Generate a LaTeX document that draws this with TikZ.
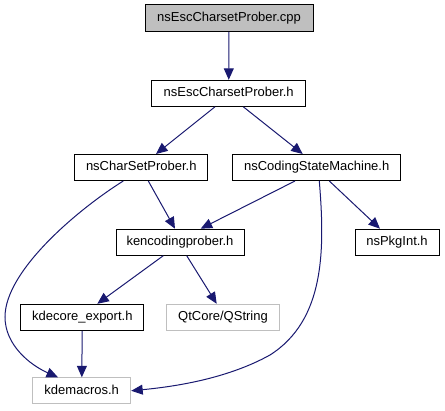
\documentclass[tikz,border=0pt]{standalone}
\usepackage{fontspec}
\setmainfont{Liberation Sans}
\usepackage{tikz}
\usetikzlibrary{calc,arrows.meta}
\definecolor{ig-edge}{HTML}{191970}
\definecolor{ig-gray}{HTML}{BFBFBF}

\begin{document}
\begin{tikzpicture}[x=1pt, y=-1pt,
    file/.style={draw=black, line width=1pt, minimum height=26pt, inner sep=0pt,
                 font=\fontsize{13}{15}\selectfont, text height=9.5pt, text depth=2.5pt},
    extfile/.style={file, draw=ig-gray},
    dep/.style={ig-edge, line width=1pt, -{Triangle[length=11.5pt, width=10pt]}}]
    \useasboundingbox (0,0) rectangle (445,411);
    \node[file, fill=ig-gray, minimum width=168pt, minimum height=27pt] (cpp) at (229,18) {nsEscCharsetProber.cpp};
    \node[file, minimum width=154pt] (esch) at (228.7,93.3) {nsEscCharsetProber.h};
    \node[file, minimum width=133pt] (csp) at (141.3,167.5) {nsCharSetProber.h};
    \node[file, minimum width=168pt] (csm) at (316.7,167.5) {nsCodingStateMachine.h};
    \node[file, minimum width=128pt] (kep) at (180,242.2) {kencodingprober.h};
    \node[file, minimum width=84pt] (pkg) at (397,242.2) {nsPkgInt.h};
    \node[file, minimum width=123pt] (kde) at (82.3,317.3) {kdecore\_export.h};
    \node[extfile, minimum width=113pt] (qstr) at (223,317.3) {QtCore/QString};
    \node[extfile, minimum width=98pt] (kdm) at (81.7,390.8) {kdemacros.h};
    % includes
    \draw[dep] (cpp) -- (esch);
    \draw[dep] ([xshift=-13.7pt]esch.south) -- ([xshift=14.7pt]csp.north);
    \draw[dep] ([xshift=14.6pt]esch.south) -- ([xshift=-14pt]csm.north);
    \draw[dep] ([xshift=7pt]csp.south) -- ([xshift=-5pt]kep.north);
    \draw[dep] ([xshift=-18pt]csp.south) .. controls (80,208) and (5,270) .. (5,317)
        .. controls (5,345) and (30,365) .. ([xshift=-23.7pt]kdm.north);
    \draw[dep] ([xshift=-21.7pt]csm.south) -- ([xshift=20.7pt]kep.north);
    \draw[dep] ([xshift=12.6pt]csm.south) -- ([xshift=-17pt]pkg.north);
    \draw[dep] ([xshift=2.6pt]csm.south) .. controls (325,250) and (325,320) .. (270,355)
        .. controls (225,380) and (170,387) .. (kdm.east);
    \draw[dep] ([xshift=-16.7pt]kep.south) -- ([xshift=15pt]kde.north);
    \draw[dep] ([xshift=6.7pt]kep.south) -- ([xshift=-6.3pt]qstr.north);
    \draw[dep] (kde) -- (kdm);
\end{tikzpicture}
\end{document}
